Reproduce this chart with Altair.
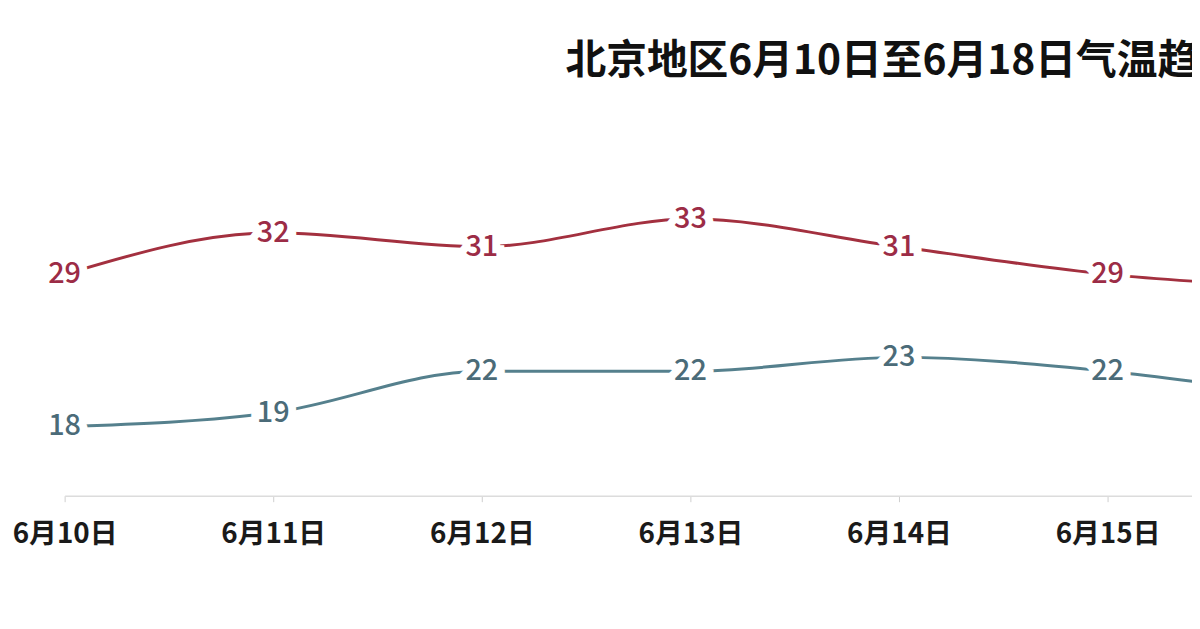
import altair as alt
import pandas as pd

days = ['6月10日', '6月11日', '6月12日', '6月13日', '6月14日',
        '6月15日', '6月16日', '6月17日', '6月18日']
shown_days = days[:7]
high_temp = [29, 32, 31, 33, 31, 29, 28]
low_temp = [18, 19, 22, 22, 23, 22, 20]

series_names = ['最高气温', '最低气温']
line_colors = ['#a3303f', '#55808d']
text_colors = ['#9c2c46', '#4b6b78']

df = pd.DataFrame({
    'day': shown_days * 2,
    'temp': high_temp + low_temp,
    'series': [series_names[0]] * len(high_temp) + [series_names[1]] * len(low_temp),
})

font = 'Noto Sans CJK SC'

x = alt.X('day:N', sort=days,
          scale=alt.Scale(type='point', domain=days, padding=0, range=[0, 1680]),
          axis=alt.Axis(title=None, labelAngle=0, labelFont=font, labelFontSize=28,
                        labelFontWeight='bold', labelColor='#1a1a1a', labelPadding=19,
                        domainColor='#dcdcdc', domainWidth=1.5, tickColor='#cfcfcf',
                        tickSize=6, grid=False))
y = alt.Y('temp:Q', scale=alt.Scale(domain=[13, 41]), axis=None)

base = alt.Chart(df).encode(x=x, y=y)

lines = base.mark_line(interpolate='monotone', strokeWidth=3).encode(
    color=alt.Color('series:N', scale=alt.Scale(domain=series_names, range=line_colors),
                    legend=None)
)

halo = base.mark_text(font=font, fontSize=29, fontWeight=500, fill='white',
                      stroke='white', strokeWidth=16).encode(text='temp:Q')

labels = base.mark_text(font=font, fontSize=29, fontWeight=500).encode(
    text='temp:Q',
    color=alt.Color('series:N', scale=alt.Scale(domain=series_names, range=text_colors),
                    legend=None)
)

chart = alt.layer(lines, halo, labels).resolve_scale(color='independent').properties(
    width=1135,
    height=390,
    autosize=alt.AutoSizeParams(type='none'),
    padding={'left': 57, 'top': 99, 'right': 0, 'bottom': 110},
    background='white',
    title=alt.TitleParams('北京地区6月10日至6月18日气温趋势', anchor='start', dx=557,
                          font=font, fontSize=41, fontWeight='bold', color='#111111',
                          offset=26),
).configure_view(stroke=None)

chart.save('out.html', embed_options={'renderer': 'svg', 'actions': False})
